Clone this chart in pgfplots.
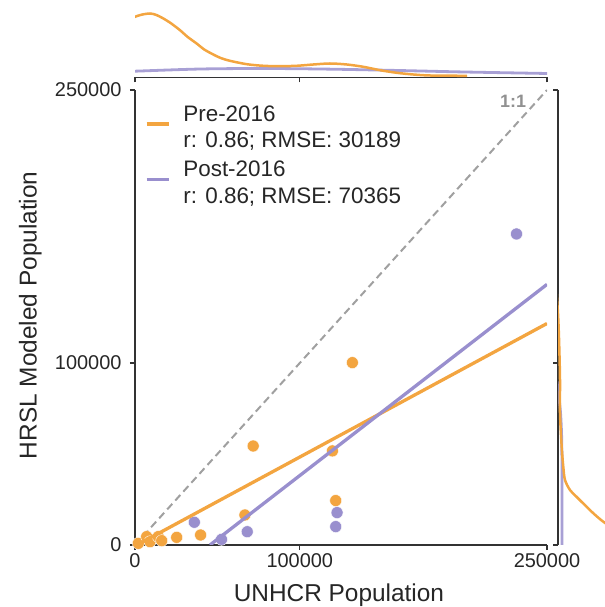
\documentclass[border=0pt]{standalone}
\usepackage{fontspec}
\setmainfont{Liberation Sans}
\usepackage{pgfplots}
\pgfplotsset{compat=1.18}

\definecolor{pre}{RGB}{243,165,64}
\definecolor{post}{RGB}{153,143,206}
\definecolor{spine}{RGB}{51,51,51}
\definecolor{txt}{RGB}{38,38,38}
\definecolor{oneone}{RGB}{160,160,160}
\definecolor{oneonetxt}{RGB}{145,145,145}

% Pre-2016 sites: UNHCR population vs. HRSL modeled population
\pgfplotstableread{
x y
2000 900
7100 4600
9100 1800
14100 4600
16200 2400
25300 4200
39800 5500
66700 16500
71700 54400
119800 51700
121800 24400
131900 100200
}\predata

% Post-2016 sites
\pgfplotstableread{
x y
36000 12500
52500 3100
68100 7300
121800 10100
122600 17800
231500 170900
}\postdata

\pgfplotsset{
  joint/.style={
    scale only axis,
    axis line style={spine, line width=1.1bp, -},
    tick style={spine, line width=1.1bp},
    tick align=outside,
    major tick length=5bp,
    scaled ticks=false,
  },
}

\newcommand{\entry}[2]{\begin{tabular}{@{\hspace{11bp}}l@{}}#1\\#2\end{tabular}}

\begin{document}
\begin{tikzpicture}

% ---------- main scatter panel ----------
\begin{axis}[joint,
  at={(135bp,62bp)}, anchor=south west,
  width=412bp, height=455bp,
  xmin=0, xmax=250000, ymin=0, ymax=250000,
  axis x line*=bottom, axis y line*=left,
  xtick={0,100000,250000}, ytick={0,100000,250000},
  xticklabels={0,100000,250000}, yticklabels={0,100000,250000},
  ticklabel style={font=\fontsize{20}{24}\selectfont, text=txt},
  yticklabel style={xshift=-5bp},
  xlabel={UNHCR Population}, ylabel={HRSL Modeled Population},
  label style={font=\fontsize{24.5}{29}\selectfont, text=txt},
  xlabel style={at={(axis description cs:0.495,-0.1246)}, anchor=base},
  ylabel style={at={(axis description cs:-0.2386,0.505)}, anchor=base},
  clip mode=individual,
  legend style={at={(axis description cs:0.024,0.978)}, anchor=north west,
    draw=none, fill=none, inner sep=0pt, row sep=18bp,
    font=\fontsize{22.5}{27}\selectfont, text=txt},
  legend cell align=left,
  legend image code/.code={\draw[#1] (0bp,-5bp) -- (22bp,-5bp);},
]
  % 1:1 reference
  \addplot[oneone, line width=2bp, dash pattern=on 7.5bp off 4.5bp, forget plot]
    coordinates {(0,0) (250000,250000)};

  \addplot[only marks, mark=*, mark size=6bp,
    mark options={fill=pre, draw=white, line width=0.4bp}, forget plot]
    table[x=x, y=y] {\predata};
  \addplot[only marks, mark=*, mark size=6bp,
    mark options={fill=post, draw=white, line width=0.4bp}, forget plot]
    table[x=x, y=y] {\postdata};

  % least-squares fits
  \addplot[pre, line width=3.3bp] coordinates {(1200,0) (250000,121700)};
  \addlegendentry{\entry{Pre-2016}{r: 0.86; RMSE: 30189}}
  \addplot[post, line width=3.3bp] coordinates {(45500,0) (250000,143200)};
  \addlegendentry{\entry{Post-2016}{r: 0.86; RMSE: 70365}}

  \node[text=oneonetxt, font=\fontsize{18}{20}\selectfont\bfseries, anchor=center]
    at (axis cs:229400,244000) {1:1};
\end{axis}

% ---------- top marginal: density of UNHCR population ----------
\begin{axis}[joint,
  at={(135bp,529.5bp)}, anchor=south west,
  width=412bp, height=77.5bp,
  xmin=0, xmax=250000, ymin=0, ymax=77.5,
  axis x line*=bottom, axis y line=none,
  xtick={0,100000,250000}, xticklabels={}, ytick=\empty,
]
  \addplot[post, line width=2.8bp, opacity=0.85, smooth] coordinates {
    (-5000,6) (0,6.3) (40000,8.5) (80000,9) (120000,8.3)
    (160000,7) (200000,5.5) (250000,4) (255000,3.8)};
  \addplot[pre, line width=2.5bp, smooth] coordinates {
    (-5000,57) (0,60.7) (4000,62.8) (9100,64) (13000,62.5) (17200,59)
    (22000,54) (27300,47.3) (32000,40.5) (37400,34) (42000,28)
    (47500,23) (52000,19.5) (57600,16.7) (67800,13.3) (77900,11.7)
    (88000,11.3) (98100,11.7) (108200,13) (118300,14) (128500,13)
    (138500,10.7) (148700,7.3) (158800,4.7) (168900,3) (179000,2)
    (199200,1.7) (201300,1.6)};
\end{axis}

% ---------- right marginal: density of HRSL modeled population ----------
\begin{axis}[joint,
  at={(558bp,62bp)}, anchor=south west,
  width=47bp, height=455bp,
  xmin=0, xmax=47, ymin=0, ymax=250000,
  axis y line*=left, axis x line=none,
  ytick={0,100000,250000}, yticklabels={}, xtick=\empty,
]
  \addplot[post, line width=2.8bp, opacity=0.85, smooth] coordinates {
    (4,-3000) (4,0) (4,40000) (3.6,60000) (2.6,72000) (1.2,80000)
    (-1,90000)};
  \addplot[pre, line width=2.5bp, smooth] coordinates {
    (-1.5,140000) (0.2,125000) (1.2,110000) (2,90700) (2,72500)
    (3.7,53800) (5.3,42900) (7,35700) (12,30200) (18.7,26400)
    (35,17600) (47,12100) (60,8200) (75,2700) (80,0) (80,-3000)};
\end{axis}

\pgfresetboundingbox
\path[use as bounding box] (0bp,0bp) rectangle (605bp,607bp);
\end{tikzpicture}
\end{document}
